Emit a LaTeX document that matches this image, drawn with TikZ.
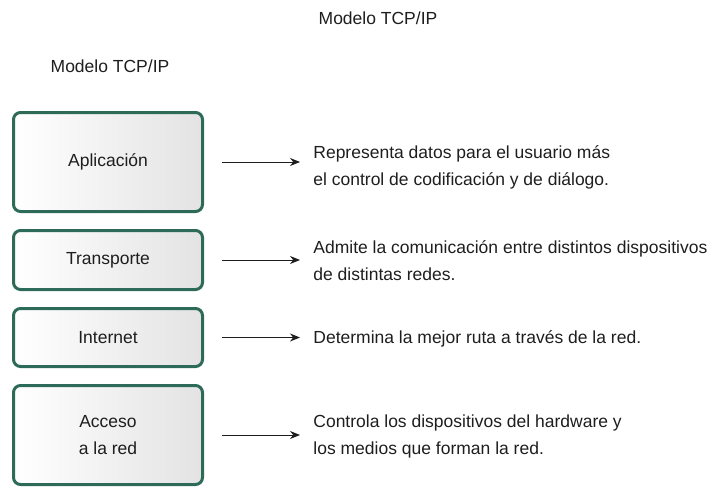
\documentclass[tikz,border=0pt]{standalone}
\usepackage{fontspec}
\setmainfont{Liberation Sans}
\usetikzlibrary{arrows.meta}
\definecolor{borde}{HTML}{2E6A58}
\definecolor{texto}{HTML}{1E1E1E}

\begin{document}
\begin{tikzpicture}[x=0.5pt,y=-0.5pt,
  font=\fontsize{8.75}{13.5}\selectfont, text=texto,
  capa/.style={draw=borde, line width=1.5pt, rounded corners=3.5pt,
    left color=white, right color=black!11, minimum width=94.5pt,
    align=center, inner sep=0pt},
  desc/.style={anchor=west, align=left, inner sep=0pt}]
\def\l{5pt}
\def\w{4pt}
\useasboundingbox (0,0) rectangle (714,487);

\node [name=t1] at (378,18) {Modelo TCP/IP};
\node [name=t2] at (110,66) {Modelo TCP/IP};

\node [capa, minimum height=49.5pt, name=apl] at (108,162) {Aplicación};
\node [capa, minimum height=29.5pt, name=tra] at (108,260) {Transporte};
\node [capa, minimum height=29pt,   name=int] at (108,337.5) {Internet};
\node [capa, minimum height=49.5pt, name=acc] at (108,435) {Acceso\\a la red};

\node [desc, name=d1] at (313,167) {Representa datos para el usuario más\\el control de codificación y de diálogo.};
\node [desc, name=d2] at (313,261) {Admite la comunicación entre distintos dispositivos\\de distintas redes.};
\node [desc, name=d3] at (313,339) {Determina la mejor ruta a través de la red.};
\node [desc, name=d4] at (313,436) {Controla los dispositivos del hardware y\\los medios que forman la red.};

\draw [-{Stealth[length=\l, width=\w]}, line width=0.5pt, texto] ([xshift=9pt]apl.east) -- ([xshift=-6.5pt]apl.east -| d1.west);
\draw [-{Stealth[length=\l, width=\w]}, line width=0.5pt, texto] ([xshift=9pt]tra.east) -- ([xshift=-6.5pt]tra.east -| d2.west);
\draw [-{Stealth[length=\l, width=\w]}, line width=0.5pt, texto] ([xshift=9pt]int.east) -- ([xshift=-6.5pt]int.east -| d3.west);
\draw [-{Stealth[length=\l, width=\w]}, line width=0.5pt, texto] ([xshift=9pt]acc.east) -- ([xshift=-6.5pt]acc.east -| d4.west);
\end{tikzpicture}
\end{document}
